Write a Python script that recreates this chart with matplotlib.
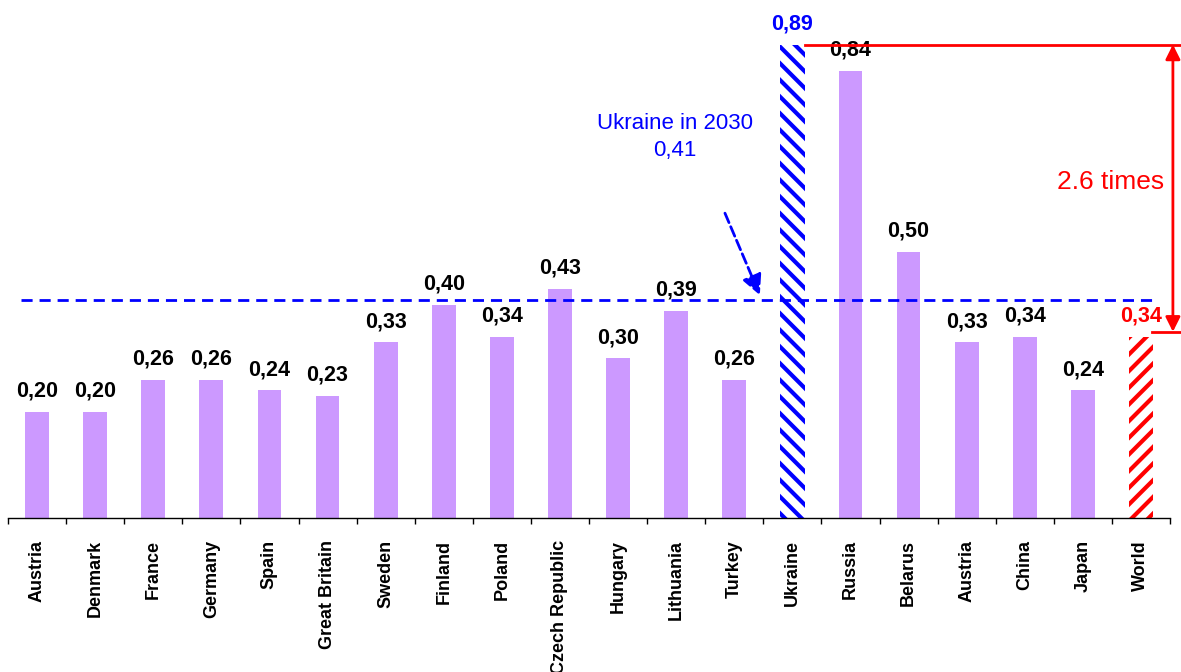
import matplotlib.pyplot as plt
import numpy as np

plt.rcParams['font.family'] = ['Liberation Sans', 'DejaVu Sans']
plt.rcParams['hatch.linewidth'] = 3.0

countries = ['Austria', 'Denmark', 'France', 'Germany', 'Spain', 'Great Britain',
             'Sweden', 'Finland', 'Poland', 'Czech Republic', 'Hungary', 'Lithuania',
             'Turkey', 'Ukraine', 'Russia', 'Belarus', 'Austria', 'China', 'Japan', 'World']
values = [0.20, 0.20, 0.26, 0.26, 0.24, 0.23, 0.33, 0.40, 0.34, 0.43, 0.30, 0.39,
          0.26, 0.89, 0.84, 0.50, 0.33, 0.34, 0.24, 0.34]
ukraine_2030 = 0.41
world_ref = 0.35

purple = '#CC99FF'
x = np.arange(len(countries))

fig = plt.figure(figsize=(11.81, 6.72), dpi=100)
ax = fig.add_axes([8/1181, 154/672, 1162/1181, 518/672])

for i, (c, v) in enumerate(zip(countries, values)):
    if c == 'Ukraine':
        ax.bar(i, v, 0.42, color='white', edgecolor='#0000FF', linewidth=0, hatch='\\\\')
        col = '#0000FF'
    elif c == 'World':
        ax.bar(i, v, 0.42, color='white', edgecolor='#FF0000', linewidth=0, hatch='//')
        col = '#FF0000'
    else:
        ax.bar(i, v, 0.41, color=purple)
        col = 'black'
    ax.annotate(f'{v:.2f}'.replace('.', ','), (i, v), xytext=(0, 11),
                textcoords='offset points', ha='center', va='baseline',
                fontsize=15.5, fontweight='bold', color=col, zorder=1)

# dashed line - Ukraine 2030 level
ax.plot([-0.28, 19.3], [ukraine_2030, ukraine_2030], color='#0000FF', lw=2,
        ls=(0, (4, 2.5)), clip_on=False)
ax.text(10.98, 0.716, 'Ukraine in 2030\n0,41', color='#0000FF', fontsize=16,
        ha='center', va='center', linespacing=1.35)
ax.annotate('', xy=(12.44, 0.419), xytext=(11.84, 0.573),
            arrowprops=dict(arrowstyle='-|>', color='#0000FF', lw=2, ls='--',
                            mutation_scale=30, shrinkA=0, shrinkB=0))

# red lines and arrow - 2.6 times
ax.plot([13.21, 19.69], [0.89, 0.89], color='#FF0000', lw=2, clip_on=False, zorder=3)
ax.plot([19.19, 19.69], [world_ref, world_ref], color='#FF0000', lw=2, clip_on=False)
ax.annotate('', xy=(19.55, 0.89), xytext=(19.55, world_ref),
            arrowprops=dict(arrowstyle='<|-|>', color='#FF0000', lw=2,
                            mutation_scale=22, shrinkA=0, shrinkB=0),
            annotation_clip=False)
ax.text(19.40, 0.632, '2.6 times', color='#FF0000', fontsize=19, ha='right', va='center')

ax.set_xlim(-0.5, 19.5)
ax.set_ylim(0, 518/532)
for s in ['top', 'right', 'left']:
    ax.spines[s].set_visible(False)
ax.spines['bottom'].set_linewidth(1)
ax.set_yticks([])
ax.set_xticks(x)
ax.set_xticklabels(countries, rotation=90, fontsize=13, fontweight='bold', va='top')
ax.tick_params(axis='x', which='major', length=0, pad=16)
ax.set_xticks(np.arange(-0.5, 20, 1), minor=True)
ax.tick_params(axis='x', which='minor', length=4, width=1, direction='out')

fig.savefig('out.png', dpi=100)
